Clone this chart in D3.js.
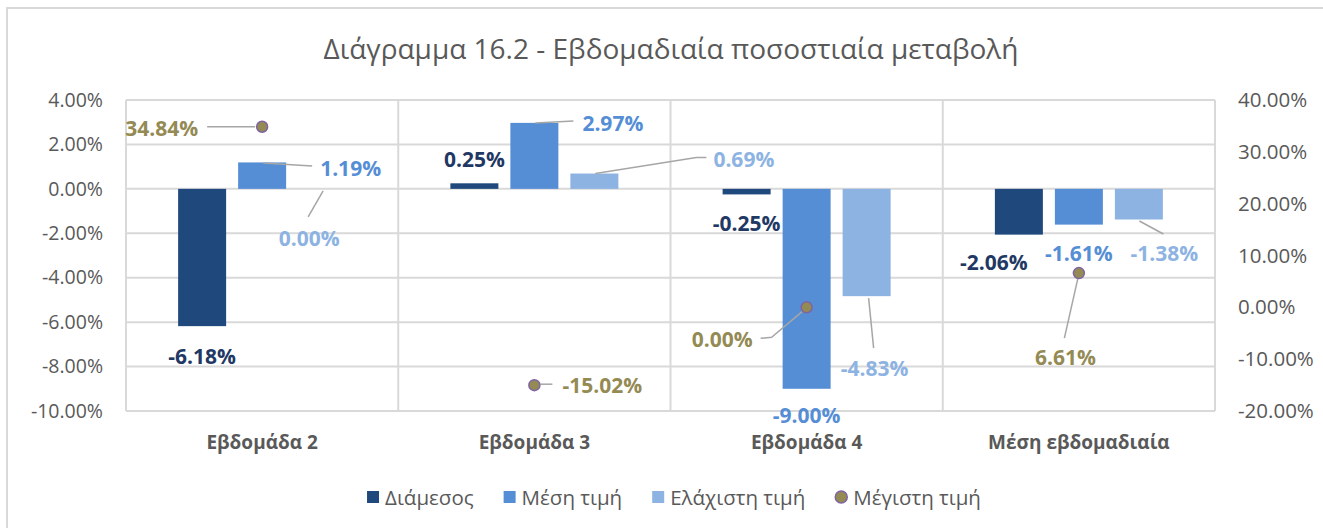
<!DOCTYPE html>
<html>
<head>
<meta charset="utf-8">
<script src="https://cdn.jsdelivr.net/npm/d3@7/dist/d3.min.js"></script>
<style>
  html, body { margin: 0; padding: 0; background: #ffffff; }
  svg { display: block; }
  text { font-family: "Open Sans", "Noto Sans", sans-serif; }
</style>
</head>
<body>
<svg id="chart" width="1323" height="528"></svg>
<script>
// ---- data ----
const categories = ["Εβδομάδα 2", "Εβδομάδα 3", "Εβδομάδα 4", "Μέση εβδομαδιαία"];
const seriesNames = ["Διάμεσος", "Μέση τιμή", "Ελάχιστη τιμή", "Μέγιστη τιμή"];
const medianValues = [-6.18, 0.25, -0.25, -2.06];
const meanValues = [1.19, 2.97, -9.00, -1.61];
const minValues = [0.00, 0.69, -4.83, -1.38];
const maxValues = [34.84, -15.02, 0.00, 6.61];      // plotted on the secondary axis
const leftTicks = [4, 2, 0, -2, -4, -6, -8, -10];
const rightTicks = [40, 30, 20, 10, 0, -10, -20];

// ---- styling ----
const barColors = ["#1F497D", "#558ED5", "#8DB3E2"];
const labelColors = ["#1F3864", "#558ED5", "#8DB3E2"];
const markerFill = "#948A54";
const markerStroke = "#8064A2";
const maxLabelColor = "#948A54";
const gridColor = "#D9D9D9";
const axisTextColor = "#595959";
const leaderColor = "#A6A6A6";

// label placement for each point: offset from the mark end, text anchor, leader polyline
const barLabelLayout = [
  // Διάμεσος
  [ {dx: 0, dy: 30, a: "middle"},
    {dx: 0, dy: -24.5, a: "middle"},
    {dx: 0, dy: 28.5, a: "middle"},
    {dx: -25, dy: 27, a: "middle"} ],
  // Μέση τιμή
  [ {dx: 58, dy: 5.5, a: "start", leader: [[1, 0.5], [50, 3.5]]},
    {dx: 48, dy: 0, a: "start", leader: [[1, 0], [39, -2]]},
    {dx: 0, dy: 26.5, a: "middle"},
    {dx: 0, dy: 28.6, a: "middle"} ],
  // Ελάχιστη τιμή
  [ {dx: -13, dy: 48.7, a: "middle", leader: [[1, 2], [-14, 28]]},
    {dx: 119, dy: -14.7, a: "start", leader: [[1, 0], [102, -16], [112, -16]]},
    {dx: 8, dy: 72, a: "middle", leader: [[2, 2], [7, 52]]},
    {dx: 25.5, dy: 33.7, a: "middle", leader: [[0.5, 1.5], [24.5, 14.5]]} ]
];
const markerLabelLayout = [
  {dx: -64, dy: 1, a: "end", leader: [[-7, 0], [-55, 0]]},
  {dx: 28, dy: 0, a: "start", leader: [[6, -1], [18, -1]]},
  {dx: -54, dy: 32, a: "end", leader: [[-3, 3], [-35, 30], [-46, 31]]},
  {dx: -13.5, dy: 84, a: "middle", leader: [[-0.5, 3], [-14.5, 65]]}
];

const fmt = v => v.toFixed(2) + "%";

const svg = d3.select("#chart");
const W = 1323, H = 528;
const plot = {left: 126, right: 1215, top: 100, bottom: 411};

// chart frame
svg.append("rect")
  .attr("x", 7).attr("y", 8).attr("width", W + 10).attr("height", H + 10)
  .attr("fill", "#ffffff").attr("stroke", gridColor).attr("stroke-width", 2);

// title
svg.append("text")
  .attr("x", 671).attr("y", 48)
  .attr("text-anchor", "middle").attr("dominant-baseline", "central")
  .attr("fill", axisTextColor).attr("font-size", 28)
  .text("Διάγραμμα 16.2 - Εβδομαδιαία ποσοστιαία μεταβολή");

// scales
const x = d3.scaleBand().domain(categories).range([plot.left, plot.right]).padding(0);
const yL = d3.scaleLinear().domain([-10, 4]).range([plot.bottom, plot.top]);
const yR = d3.scaleLinear().domain([-20, 40]).range([plot.bottom, plot.top]);
const barSeries = seriesNames.slice(0, 3);
const xSub = d3.scaleBand().domain(barSeries).range([-90, 90]).paddingInner(0.2).paddingOuter(0.1);

// gridlines
const grid = svg.append("g");
grid.selectAll("line.h").data(leftTicks).join("line")
  .attr("x1", plot.left).attr("x2", plot.right)
  .attr("y1", d => yL(d)).attr("y2", d => yL(d))
  .attr("stroke", gridColor).attr("stroke-width", 2);
const vLines = categories.map(c => x(c)).concat([x(categories[categories.length - 1]) + x.bandwidth()]);
grid.selectAll("line.v").data(vLines).join("line")
  .attr("x1", d => d).attr("x2", d => d)
  .attr("y1", plot.top).attr("y2", plot.bottom)
  .attr("stroke", gridColor).attr("stroke-width", 2);

// axes
const leftAxis = svg.append("g").attr("transform", `translate(${plot.left},0)`)
  .call(d3.axisLeft(yL).tickValues(leftTicks).tickFormat(fmt).tickSize(0).tickPadding(23));
const rightAxis = svg.append("g").attr("transform", `translate(${plot.right},0)`)
  .call(d3.axisRight(yR).tickValues(rightTicks).tickFormat(fmt).tickSize(0).tickPadding(23));
const catAxis = svg.append("g").attr("transform", `translate(0,${plot.bottom})`)
  .call(d3.axisBottom(x).tickSize(0).tickPadding(25));
[leftAxis, rightAxis, catAxis].forEach(g => {
  g.select(".domain").remove();
  g.selectAll("text").attr("fill", axisTextColor)
    .style("font-family", '"Open Sans", "Noto Sans", sans-serif');
});
leftAxis.selectAll("text").attr("font-size", 19.5);
rightAxis.selectAll("text").attr("font-size", 20.5);
catAxis.selectAll("text").attr("font-size", 19).attr("font-weight", "bold");

// bars
const barValues = [medianValues, meanValues, minValues];
const bars = [];
barValues.forEach((vals, si) => {
  vals.forEach((v, ci) => {
    bars.push({si, ci, v, cx: x(categories[ci]) + x.bandwidth() / 2 + xSub(barSeries[si]) + xSub.bandwidth() / 2});
  });
});
svg.append("g").selectAll("rect").data(bars).join("rect")
  .attr("x", d => d.cx - xSub.bandwidth() / 2)
  .attr("width", xSub.bandwidth())
  .attr("y", d => Math.min(yL(d.v), yL(0)))
  .attr("height", d => Math.abs(yL(d.v) - yL(0)))
  .attr("fill", d => barColors[d.si]);

// leader lines + labels
const lineGen = d3.line();
const leaders = svg.append("g");
const labels = svg.append("g");
const labelSize = 21;
bars.forEach(d => {
  const L = barLabelLayout[d.si][d.ci];
  const ex = d.cx, ey = yL(d.v);
  if (L.leader) {
    leaders.append("path")
      .attr("d", lineGen(L.leader.map(p => [ex + p[0], ey + p[1]])))
      .attr("fill", "none").attr("stroke", leaderColor).attr("stroke-width", 1.5);
  }
  labels.append("text")
    .attr("x", ex + L.dx).attr("y", ey + L.dy)
    .attr("text-anchor", L.a).attr("dominant-baseline", "central")
    .attr("font-size", labelSize).attr("font-weight", "bold")
    .attr("fill", labelColors[d.si])
    .text(fmt(d.v));
});

// maximum markers on the secondary axis
const markers = maxValues.map((v, ci) => ({v, ci, cx: x(categories[ci]) + x.bandwidth() / 2}));
markers.forEach(d => {
  const L = markerLabelLayout[d.ci];
  const ex = d.cx, ey = yR(d.v);
  leaders.append("path")
    .attr("d", lineGen(L.leader.map(p => [ex + p[0], ey + p[1]])))
    .attr("fill", "none").attr("stroke", leaderColor).attr("stroke-width", 1.5);
  labels.append("text")
    .attr("x", ex + L.dx).attr("y", ey + L.dy)
    .attr("text-anchor", L.a).attr("dominant-baseline", "central")
    .attr("font-size", labelSize).attr("font-weight", "bold")
    .attr("fill", maxLabelColor)
    .text(fmt(d.v));
});
svg.append("g").selectAll("circle").data(markers).join("circle")
  .attr("cx", d => d.cx).attr("cy", d => yR(d.v)).attr("r", 5.5)
  .attr("fill", markerFill).attr("stroke", markerStroke).attr("stroke-width", 1.5);

// legend
const legend = svg.append("g");
const legendY = 497;
const gap = 30;
let lx = 0;
seriesNames.forEach((name, i) => {
  const g = legend.append("g");
  if (i < 3) {
    g.append("rect").attr("x", lx).attr("y", legendY - 6).attr("width", 12).attr("height", 12)
      .attr("fill", barColors[i]);
  } else {
    g.append("circle").attr("cx", lx + 6).attr("cy", legendY).attr("r", 6)
      .attr("fill", markerFill).attr("stroke", markerStroke).attr("stroke-width", 1.5);
  }
  const t = g.append("text").attr("x", lx + 18).attr("y", legendY)
    .attr("dominant-baseline", "central").attr("font-size", 20.5)
    .attr("fill", axisTextColor).text(name);
  lx += 18 + t.node().getComputedTextLength() + gap;
});
const legendWidth = lx - gap;
legend.attr("transform", `translate(${674 - legendWidth / 2},0)`);
</script>
</body>
</html>
